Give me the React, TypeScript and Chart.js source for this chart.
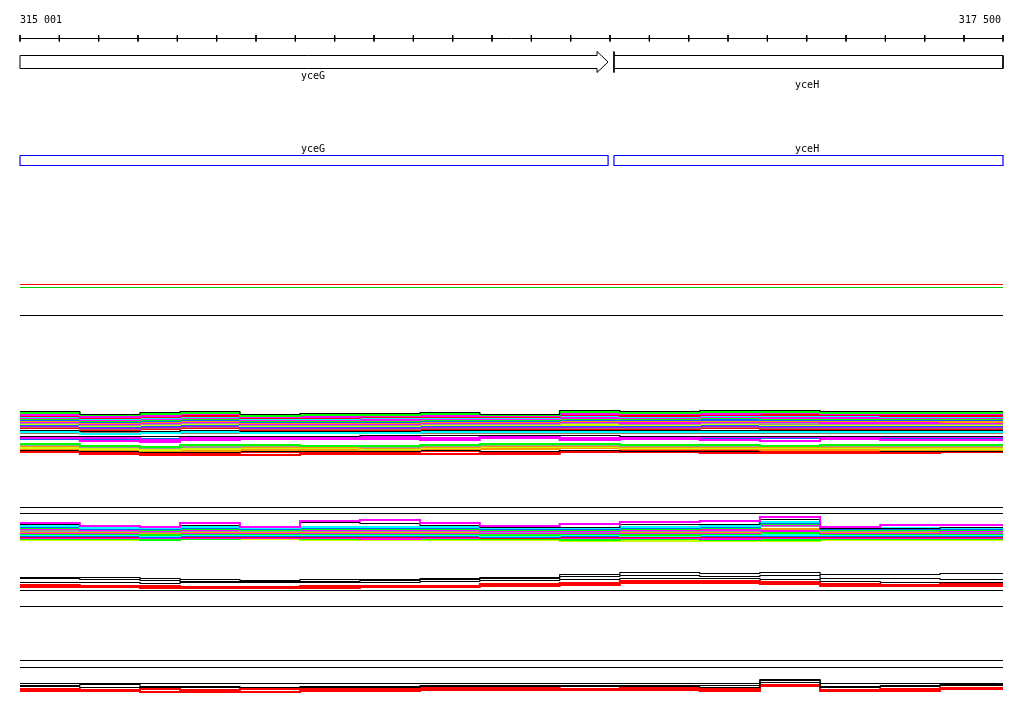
import React, { useEffect, useRef } from "react";
import { Chart, registerables } from "chart.js";

Chart.register(...registerables);

// ---- Data ----
const X_START = 315001;
const X_END = 317500;
const RANGE_LABELS = ["315 001", "317 500"];

const RULER_TICKS = [
  315001, 315101, 315201, 315301, 315401, 315501, 315601, 315701, 315801, 315901,
  316001, 316101, 316201, 316301, 316401, 316501, 316601, 316701, 316801, 316901,
  317001, 317101, 317201, 317301, 317401, 317500,
];

// genes
const GENE_NAMES = ["yceG", "yceH"];
const GENE_STARTS = [315001, 316511];
const GENE_ENDS = [316496, 317500];
const GENE_LABEL_POS = [315746, 317002];

// step breakpoints (genomic positions)
const BREAKPOINTS = [
  315001, 315153, 315306, 315408, 315560, 315713, 315865, 316018, 316170,
  316373, 316526, 316729, 316882, 317035, 317188, 317340, 317500,
];

// flat reference tracks (row values)
const FLAT_ROWS = [284, 287, 315, 507, 513, 590, 606, 660, 667];
const FLAT_COLORS = ["#ff0000", "#00cc00", "#000000", "#000000", "#000000", "#000000", "#000000", "#000000", "#000000"];

// Band 1 : many coloured profiles
const BAND1_COLORS = [
  "#000000", "#00ff00", "#ff00ff", "#ff0000", "#00ffff", "#ff00ff", "#00ff00", "#0066ff",
  "#ff9900", "#ff00ff", "#999999", "#ccff00", "#0066ff", "#cc00ff", "#997766", "#ff0000",
  "#000000", "#00ffff", "#997766", "#000000", "#ff00ff", "#ff00ff", "#0066ff", "#00ff00",
  "#999999", "#ff9900", "#ccff00", "#ff9900", "#000000", "#ff0000", "#ff0000",
];
const BAND1_VALUES = [
  [411, 414, 412, 411, 414, 413, 413, 412, 414, 410, 411, 410, 410, 411, 411, 411],
  [413, 415, 414, 413, 416, 415, 415, 414, 415, 412, 413, 412, 412, 413, 413, 413],
  [415, 417, 416, 414, 417, 417, 416, 416, 416, 414, 414, 414, 413, 414, 414, 414],
  [416, 418, 417, 416, 418, 418, 417, 417, 417, 415, 416, 415, 415, 415, 416, 416],
  [417, 419, 418, 417, 419, 419, 418, 418, 418, 416, 417, 416, 416, 416, 417, 417],
  [418, 420, 419, 418, 420, 420, 420, 419, 419, 418, 418, 417, 418, 418, 418, 418],
  [419, 421, 420, 419, 421, 421, 421, 420, 420, 419, 419, 418, 419, 419, 419, 419],
  [420, 422, 421, 420, 422, 422, 422, 421, 421, 420, 420, 420, 420, 420, 420, 420],
  [421, 423, 422, 421, 423, 423, 423, 422, 422, 421, 421, 421, 421, 421, 421, 422],
  [422, 424, 423, 422, 424, 424, 424, 423, 423, 422, 423, 422, 422, 423, 423, 423],
  [423, 425, 424, 423, 425, 425, 425, 424, 424, 423, 424, 423, 424, 424, 424, 424],
  [424, 426, 425, 424, 426, 426, 426, 425, 425, 425, 425, 424, 425, 425, 425, 425],
  [425, 427, 426, 425, 427, 427, 427, 426, 426, 426, 426, 425, 426, 426, 426, 426],
  [426, 428, 427, 426, 428, 428, 428, 427, 427, 427, 427, 426, 427, 427, 427, 427],
  [427, 429, 428, 427, 429, 429, 429, 428, 428, 428, 428, 427, 428, 428, 428, 428],
  [428, 430, 429, 428, 430, 430, 430, 429, 429, 429, 429, 428, 429, 429, 429, 429],
  [430, 431, 431, 430, 431, 431, 431, 430, 430, 430, 430, 430, 430, 430, 430, 430],
  [432, 434, 433, 432, 433, 433, 433, 432, 432, 432, 432, 432, 432, 432, 432, 432],
  [433, 433, 433, 433, 432, 432, 432, 433, 433, 433, 433, 433, 433, 433, 433, 433],
  [436, 436, 436, 436, 436, 436, 435, 435, 435, 435, 436, 436, 436, 436, 436, 436],
  [437, 438, 440, 438, 437, 437, 437, 438, 437, 438, 437, 437, 437, 437, 437, 437],
  [438, 441, 442, 440, 439, 439, 439, 440, 438, 440, 439, 440, 441, 439, 440, 440],
  [439, 439, 439, 438, 438, 438, 438, 438, 437, 438, 438, 439, 438, 438, 438, 438],
  [444, 446, 447, 445, 445, 446, 446, 445, 444, 444, 445, 445, 446, 445, 445, 445],
  [445, 447, 448, 447, 446, 446, 447, 446, 445, 445, 446, 446, 446, 446, 446, 446],
  [446, 447, 448, 447, 447, 447, 448, 447, 446, 446, 447, 447, 447, 447, 447, 447],
  [448, 449, 450, 449, 448, 448, 449, 448, 447, 447, 448, 448, 448, 448, 449, 449],
  [449, 450, 451, 451, 450, 450, 450, 449, 449, 448, 449, 449, 450, 450, 450, 450],
  [450, 451, 452, 452, 451, 451, 451, 450, 451, 450, 451, 451, 450, 450, 451, 451],
  [451, 452, 453, 453, 452, 452, 452, 451, 453, 451, 450, 451, 451, 451, 451, 450],
  [452, 454, 455, 455, 455, 454, 454, 454, 454, 452, 452, 453, 453, 453, 453, 452],
];

// Band 2
const BAND2_COLORS = [
  "#ff00ff", "#000000", "#00ffff", "#0066ff", "#00ff00", "#ff00ff", "#999999", "#ff9900",
  "#ff00ff", "#00ff00", "#00ffff", "#0066ff", "#ff0000", "#ff00ff", "#00ff00", "#ccff00",
];
const BAND2_VALUES = [
  [523, 526, 527, 523, 527, 521, 520, 523, 526, 524, 522, 521, 517, 527, 525, 525],
  [524, 525, 526, 525, 527, 522, 523, 525, 527, 527, 524, 524, 519, 528, 528, 527],
  [526, 528, 528, 527, 528, 527, 527, 527, 528, 528, 527, 526, 522, 528, 528, 528],
  [527, 529, 529, 528, 529, 528, 528, 528, 529, 529, 528, 527, 523, 529, 529, 529],
  [528, 529, 530, 529, 530, 529, 529, 529, 530, 530, 529, 528, 524, 530, 530, 530],
  [529, 530, 531, 530, 530, 530, 530, 530, 531, 531, 530, 530, 525, 530, 530, 531],
  [531, 531, 532, 531, 531, 531, 531, 531, 532, 532, 531, 531, 526, 531, 531, 532],
  [532, 532, 533, 532, 532, 532, 532, 532, 532, 532, 532, 532, 529, 532, 532, 532],
  [533, 533, 533, 533, 533, 533, 533, 533, 533, 533, 533, 533, 531, 533, 533, 533],
  [534, 534, 535, 534, 534, 534, 534, 534, 535, 534, 535, 534, 533, 534, 534, 534],
  [535, 535, 536, 535, 535, 535, 535, 535, 536, 535, 536, 535, 535, 535, 535, 535],
  [536, 536, 537, 536, 536, 536, 536, 536, 537, 536, 536, 536, 536, 536, 536, 536],
  [537, 537, 537, 537, 537, 537, 537, 537, 538, 537, 537, 537, 537, 537, 537, 537],
  [538, 538, 538, 538, 538, 538, 539, 538, 538, 538, 538, 539, 538, 538, 538, 538],
  [539, 539, 540, 539, 538, 539, 539, 539, 539, 540, 539, 540, 540, 539, 539, 539],
  [540, 540, 540, 539, 539, 540, 540, 540, 540, 541, 541, 541, 541, 540, 540, 540],
];

// Band 3
const BAND3_COLORS = ["#000000", "#000000", "#000000", "#ff0000", "#ff0000"];
const BAND3_VALUES = [
  [577, 577, 578, 579, 580, 579, 579, 578, 578, 574, 572, 573, 572, 574, 574, 573],
  [578, 579, 580, 581, 581, 581, 580, 579, 577, 576, 575, 576, 575, 578, 578, 579],
  [582, 582, 583, 582, 582, 582, 582, 581, 580, 579, 578, 578, 579, 581, 582, 582],
  [585, 586, 586, 587, 587, 586, 586, 586, 584, 583, 581, 581, 582, 584, 585, 584],
  [587, 587, 588, 588, 588, 588, 587, 587, 586, 585, 583, 583, 584, 586, 586, 586],
];

// Band 4
const BAND4_COLORS = ["#000000", "#000000", "#000000", "#ff0000", "#ff0000"];
const BAND4_VALUES = [
  [683, 683, 683, 683, 683, 683, 683, 683, 683, 683, 683, 683, 679, 683, 683, 683],
  [685, 684, 686, 686, 687, 686, 686, 685, 685, 685, 685, 685, 680, 686, 685, 684],
  [686, 687, 687, 687, 687, 687, 687, 686, 686, 686, 686, 687, 682, 687, 686, 685],
  [689, 690, 689, 690, 689, 689, 689, 688, 688, 689, 688, 689, 685, 690, 689, 688],
  [691, 691, 692, 692, 692, 691, 691, 690, 690, 690, 690, 691, 686, 691, 691, 689],
];

// ---- helpers ----
type P = { x: number; y: number | null };

function stepSeries(vals: number[], shift: number): P[] {
  return BREAKPOINTS.map((x, i) => ({ x, y: vals[Math.min(i, vals.length - 1)] + shift }));
}

function lineDs(data: P[], color: string, width: number, stepped = false) {
  return {
    type: "line" as const,
    data,
    borderColor: color,
    backgroundColor: color,
    borderWidth: width,
    pointRadius: 0,
    pointHoverRadius: 0,
    stepped,
    tension: 0,
    fill: false,
    spanGaps: false,
    clip: false as any,
  };
}

export default function App() {
  const ref = useRef<HTMLCanvasElement | null>(null);

  useEffect(() => {
    if (!ref.current) return;
    const datasets: any[] = [];

    // ruler
    datasets.push(lineDs([{ x: X_START, y: 38.5 }, { x: X_END, y: 38.5 }], "#000000", 1));
    const tickPts: P[] = [];
    RULER_TICKS.forEach((t) => {
      tickPts.push({ x: t, y: 35 }, { x: t, y: 41.5 }, { x: t, y: null });
    });
    datasets.push(lineDs(tickPts, "#000000", 1));

    // gene arrow yceG
    const gA = GENE_ENDS[0] - 28;
    datasets.push(
      lineDs(
        [
          { x: GENE_STARTS[0], y: 55.5 },
          { x: gA, y: 55.5 },
          { x: gA, y: 51.5 },
          { x: GENE_ENDS[0], y: 62 },
          { x: gA, y: 72.5 },
          { x: gA, y: 68.5 },
          { x: GENE_STARTS[0], y: 68.5 },
          { x: GENE_STARTS[0], y: 55.5 },
        ],
        "#000000",
        1
      )
    );
    // gene yceH (start marker + box)
    datasets.push(
      lineDs(
        [
          { x: GENE_STARTS[1], y: 51.5 },
          { x: GENE_STARTS[1], y: 72.5 },
          { x: GENE_STARTS[1], y: null },
          { x: GENE_STARTS[1], y: 55.5 },
          { x: GENE_ENDS[1], y: 55.5 },
          { x: GENE_ENDS[1], y: 68.5 },
          { x: GENE_STARTS[1], y: 68.5 },
        ],
        "#000000",
        1
      )
    );
    // blue gene boxes
    GENE_NAMES.forEach((_, i) => {
      datasets.push(
        lineDs(
          [
            { x: GENE_STARTS[i], y: 155.5 },
            { x: GENE_ENDS[i], y: 155.5 },
            { x: GENE_ENDS[i], y: 165.5 },
            { x: GENE_STARTS[i], y: 165.5 },
            { x: GENE_STARTS[i], y: 155.5 },
          ],
          "#0000ff",
          1.2
        )
      );
    });

    // flat lines
    FLAT_ROWS.forEach((r, i) => {
      datasets.push(lineDs([{ x: X_START, y: r + 0.5 }, { x: X_END, y: r + 0.5 }], FLAT_COLORS[i], 1.2));
    });

    const addBand = (vals: number[][], cols: string[]) => {
      vals.forEach((v, i) => {
        const c = cols[i];
        const black = c === "#000000";
        datasets.push(lineDs(stepSeries(v, black ? 0.5 : 0), c, black ? 1.1 : 2, true));
      });
    };
    addBand(BAND1_VALUES, BAND1_COLORS);
    addBand(BAND2_VALUES, BAND2_COLORS);
    addBand(BAND3_VALUES, BAND3_COLORS);
    addBand(BAND4_VALUES, BAND4_COLORS);

    const textPlugin = {
      id: "texts",
      afterDraw(chart: any) {
        const ctx = chart.ctx;
        const xs = chart.scales.x;
        const ys = chart.scales.y;
        ctx.save();
        ctx.fillStyle = "#000000";
        ctx.font = "10px 'DejaVu Sans Mono', monospace";
        ctx.textBaseline = "middle";
        ctx.textAlign = "left";
        ctx.fillText(RANGE_LABELS[0], xs.getPixelForValue(X_START), ys.getPixelForValue(20.5));
        ctx.textAlign = "right";
        ctx.fillText(RANGE_LABELS[1], xs.getPixelForValue(X_END) - 2, ys.getPixelForValue(20.5));
        ctx.textAlign = "center";
        ctx.fillText(GENE_NAMES[0], xs.getPixelForValue(GENE_LABEL_POS[0]), ys.getPixelForValue(76));
        ctx.fillText(GENE_NAMES[1], xs.getPixelForValue(GENE_LABEL_POS[1]), ys.getPixelForValue(85));
        ctx.fillText(GENE_NAMES[0], xs.getPixelForValue(GENE_LABEL_POS[0]), ys.getPixelForValue(149));
        ctx.fillText(GENE_NAMES[1], xs.getPixelForValue(GENE_LABEL_POS[1]), ys.getPixelForValue(149));
        ctx.restore();
      },
    };

    const chart = new Chart(ref.current, {
      type: "line",
      data: { datasets },
      options: {
        animation: false,
        responsive: false,
        maintainAspectRatio: false,
        events: [],
        layout: { padding: { left: 20, right: 21, top: 0, bottom: 0 } },
        scales: {
          x: { type: "linear", min: X_START, max: X_END, display: false },
          y: { type: "linear", min: 0, max: 714, reverse: true, display: false },
        },
        plugins: { legend: { display: false }, tooltip: { enabled: false }, title: { display: false } },
      },
      plugins: [textPlugin],
    } as any);
    return () => chart.destroy();
  }, []);

  return (
    <div style={{ position: "fixed", left: 0, top: 0, width: 1024, height: 714, background: "#ffffff" }}>
      <canvas ref={ref} width={1024} height={714} style={{ display: "block" }} />
    </div>
  );
}
